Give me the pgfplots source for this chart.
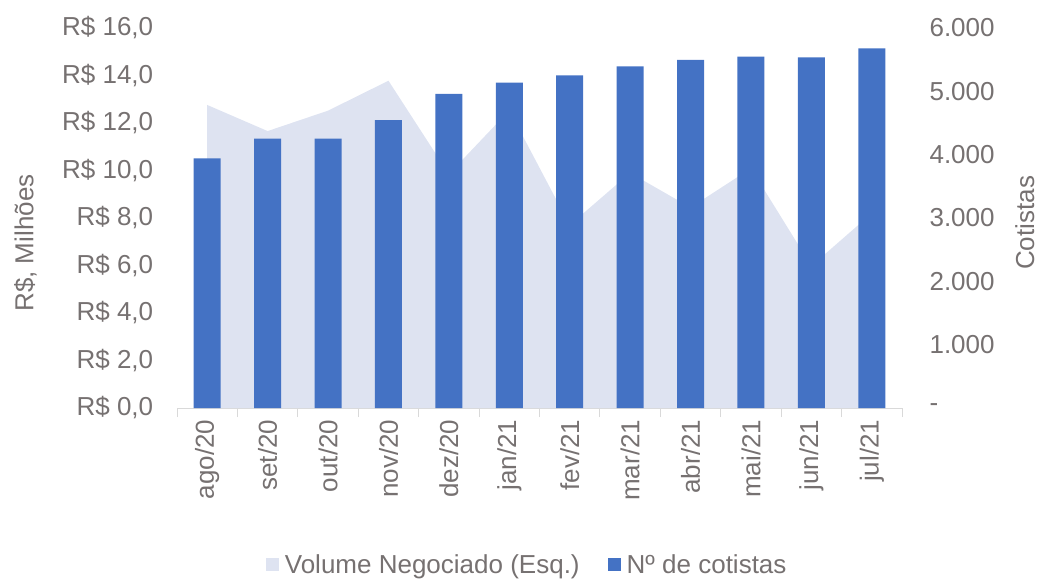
\documentclass[border=0pt]{standalone}
\usepackage{pgfplots}
\pgfplotsset{compat=1.18}
\usepackage{fontspec}
\setmainfont{Liberation Sans}
\definecolor{txt}{HTML}{767171}
\definecolor{barc}{HTML}{4472C4}
\definecolor{areac}{HTML}{DEE3F1}
\definecolor{axc}{HTML}{D9D9D9}
\newcommand{\fs}{\fontsize{26}{31}\selectfont}
\pgfplotsset{
  sqlegend/.style={legend image code/.code={\fill[##1] (0pt,-6.5pt) rectangle (13pt,6.5pt); \path (17pt,0pt);}},
}
\begin{document}
\begin{tikzpicture}[x=1pt,y=1pt]
\path[use as bounding box] (0,0) rectangle (1041,581);
\pgfplotsset{
  base/.style={
    at={(177pt,173pt)}, anchor=south west,
    scale only axis, width=725pt, height=380pt,
    xmin=-0.5, xmax=11.5,
    /pgf/number format/assume math mode=true,
    tick label style={font=\fs, text=txt},
    label style={font=\fs, text=txt},
    ytick style={draw=none},
  }
}
\begin{axis}[base,
  ymin=0, ymax=16,
  axis x line*=bottom, axis y line*=left,
  y axis line style={draw=none},
  x axis line style={draw=axc, line width=1pt, -},
  xtick={0,...,11},
  xticklabels={ago/20,set/20,out/20,nov/20,dez/20,jan/21,fev/21,mar/21,abr/21,mai/21,jun/21,jul/21},
  xticklabel style={rotate=90, anchor=east, xshift=-4pt},
  major x tick style={draw=none},
  minor xtick={-0.5,0.5,...,11.5},
  minor x tick style={draw=axc, line width=1pt},
  minor tick length=9pt,
  tick align=outside,
  ytick={0,2,...,16},
  yticklabels={{R\$ 0,0},{R\$ 2,0},{R\$ 4,0},{R\$ 6,0},{R\$ 8,0},{R\$ 10,0},{R\$ 12,0},{R\$ 14,0},{R\$ 16,0}},
  yticklabel style={anchor=east, xshift=-16pt},
  ylabel={R\$, Milhões},
  ylabel style={at={(axis description cs:-0.209,0.434)}, anchor=center},
]
\addplot[fill=areac, draw=none] coordinates {
  (0,12.76) (1,11.66) (2,12.52) (3,13.78) (4,9.85) (5,12.53)
  (6,7.70) (7,9.90) (8,8.44) (9,10.09) (10,5.98) (11,8.20)
} \closedcycle;
\end{axis}
\begin{axis}[base,
  ymin=0, ymax=6000,
  axis x line=none, axis y line*=right,
  y axis line style={draw=none},
  ytick={0,1000,...,6000},
  yticklabels={-,1.000,2.000,3.000,4.000,5.000,6.000},
  yticklabel style={anchor=west, xshift=24pt},
  ylabel={Cotistas},
  ylabel style={at={(axis description cs:1.1695,0.487)}, anchor=center},
  legend style={at={(axis description cs:0.483,-0.413)}, anchor=center, draw=none,
    fill=none, font=\fs, text=txt, legend columns=2,
    /tikz/every even column/.append style={column sep=26pt},
    legend cell align=left},
]
\addlegendimage{fill=areac, draw=none, sqlegend}
\addlegendentry{Volume Negociado (Esq.)}
\addplot[ybar, bar width=27pt, fill=barc, draw=none, sqlegend] coordinates {
  (0,3943) (1,4252) (2,4252) (3,4547) (4,4958) (5,5137)
  (6,5250) (7,5395) (8,5495) (9,5547) (10,5537) (11,5680)
};
\addlegendentry{Nº de cotistas}
\end{axis}
\end{tikzpicture}
\end{document}
